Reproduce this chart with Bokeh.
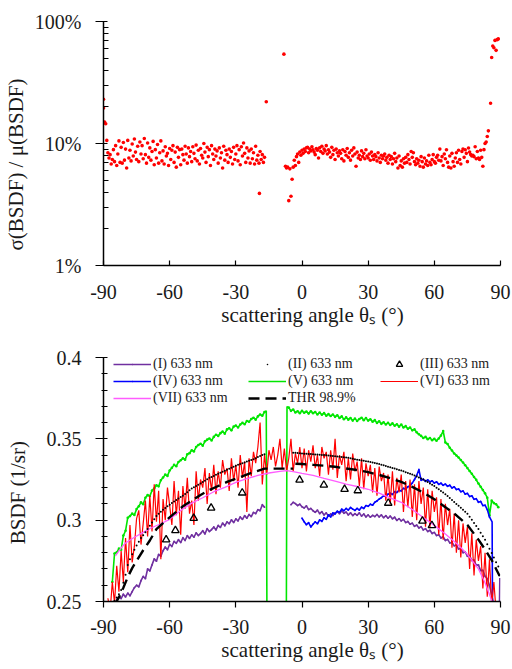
import numpy as np
from bokeh.plotting import figure
from bokeh.layouts import column
from bokeh.models import (FixedTicker, PrintfTickFormatter, CustomJSTickFormatter,
                          Legend, LegendItem, Range1d)
from bokeh.embed import file_html
from bokeh.resources import INLINE

FONT = "Liberation Serif"

# ---------------- top panel: relative std dev (percent) ----------------
top_left_theta = np.linspace(-89.0, -17.0, 145)
top_left_cv = [
    14.5, 10.6, 8.4, 7.6, 8.1, 6.8, 7.4, 8.9, 7.1, 9.6,
    6.6, 8.2, 10.5, 7.0, 9.3, 6.9, 10.2, 7.3, 9.0, 6.3,
    10.6, 7.6, 8.8, 7.2, 9.9, 7.9, 10.9, 8.5, 7.4, 9.5,
    7.1, 10.3, 8.2, 9.6, 7.5, 11.0, 8.1, 6.9, 10.1, 7.7,
    9.2, 7.3, 8.6, 10.4, 6.7, 8.9, 7.6, 9.8, 6.9, 8.4,
    10.5, 7.2, 8.7, 6.8, 9.4, 7.9, 8.3, 6.6, 9.1, 7.4,
    8.8, 9.6, 7.0, 8.5, 6.4, 9.3, 7.7, 8.9, 6.7, 9.0,
    8.1, 7.3, 9.5, 8.2, 6.9, 9.2, 7.8, 8.6, 7.1, 9.4,
    8.3, 7.5, 9.7, 7.2, 8.8, 6.8, 9.1, 8.0, 7.6, 10.0,
    8.5, 7.0, 9.3, 7.8, 8.9, 6.6, 9.6, 8.2, 7.4, 9.0,
    7.9, 8.7, 6.9, 9.2, 7.6, 8.4, 6.3, 9.5, 7.3, 8.8,
    8.1, 7.0, 9.0, 7.7, 8.6, 6.8, 9.3, 7.4, 8.2, 9.6,
    7.2, 8.9, 6.7, 9.4, 7.9, 10.1, 8.3, 7.0, 9.2, 7.6,
    8.7, 6.9, 9.0, 7.5, 8.4, 6.8, 9.5, 7.3, 8.0, 6.9,
    8.6, 7.4, 8.1, 7.0, 7.7,
]
top_right_theta = np.linspace(-7.5, 82.5, 181)
top_right_cv = [
    6.5, 6.3, 6.4, 3.4, 6.2, 3.7, 5.1, 6.4, 7.3, 6.6,
    7.8, 8.2, 7.0, 8.5, 8.0, 8.8, 8.3, 9.0, 8.6, 9.2,
    9.3, 8.4, 9.0, 8.7, 9.4, 8.9, 8.5, 8.1, 9.1, 8.8,
    7.6, 9.2, 8.6, 9.5, 8.3, 9.0, 8.7, 9.6, 8.2, 8.9,
    8.5, 7.7, 9.3, 8.1, 8.8, 7.4, 9.0, 8.4, 7.9, 8.7,
    8.3, 7.5, 8.9, 7.2, 8.6, 8.0, 9.1, 7.7, 8.4, 7.3,
    8.8, 7.9, 9.2, 8.2, 6.5, 8.5, 7.6, 8.0, 7.4, 8.7,
    7.8, 8.3, 7.5, 8.9, 7.9, 7.6, 8.2, 7.3, 8.5, 7.9,
    7.4, 8.1, 7.8, 7.2, 8.4, 7.6, 7.0, 8.0, 7.5, 7.9,
    8.2, 7.3, 7.7, 6.9, 8.0, 7.4, 7.8, 6.8, 7.5, 8.3,
    7.1, 7.6, 6.3, 7.9, 6.6, 7.2, 6.4, 7.5, 6.9, 7.7,
    7.0, 8.1, 7.4, 6.8, 8.6, 7.7, 8.4, 7.1, 6.7, 7.5,
    6.9, 7.3, 6.5, 7.8, 7.1, 6.4, 7.6, 6.8, 7.2, 6.6,
    8.0, 7.0, 6.7, 7.4, 8.1, 7.1, 6.9, 7.7, 8.0, 7.3,
    9.0, 7.2, 7.8, 6.6, 8.2, 7.5, 8.9, 7.0, 6.4, 7.9,
    6.3, 8.3, 7.1, 6.5, 7.6, 8.4, 7.0, 8.8, 7.4, 6.8,
    8.6, 9.0, 7.7, 8.9, 8.3, 7.1, 9.2, 8.5, 8.1, 7.9,
    8.0, 7.8, 9.4, 7.5, 8.6, 7.6, 7.4, 8.8, 7.7, 6.5,
    8.9,
]
top_extra_theta = [-90.0, -90.0, -89.5, -19.3, -16.2, -8.2, 83.0, 83.5, 84.0, 84.5,
                   85.5, 86.0, 86.5, 87.0, 87.5, 88.0, 88.5, 89.0]
top_extra_cv = [23.0, 19.5, 15.0, 3.9, 22.0, 54.0, 10.0, 10.3, 11.4, 12.7,
                21.4, 50.7, 63.0, 61.0, 70.0, 58.0, 71.0, 72.0]
top_ticks = [1, 10, 100]
top_minor = [2, 3, 4, 5, 6, 7, 8, 9, 20, 30, 40, 50, 60, 70, 80, 90]
x_ticks = [-90, -60, -30, 0, 30, 60, 90]

# ---------------- bottom panel: BSDF ----------------
# (I) purple
p1_left_theta = np.arange(-84, -16)
p1_left = [
    0.2512, 0.2530, 0.2518, 0.2545, 0.2528, 0.2552, 0.2535, 0.2560, 0.2585, 0.2600,
    0.2590, 0.2628, 0.2655, 0.2640, 0.2700, 0.2688, 0.2725, 0.2762, 0.2748, 0.2790,
    0.2778, 0.2812, 0.2835, 0.2818, 0.2852, 0.2838, 0.2870, 0.2858, 0.2880, 0.2862,
    0.2892, 0.2875, 0.2905, 0.2888, 0.2910, 0.2895, 0.2922, 0.2905, 0.2918, 0.2935,
    0.2915, 0.2948, 0.2930, 0.2942, 0.2958, 0.2940, 0.2968, 0.2955, 0.2982, 0.2965,
    0.2990, 0.2978, 0.3002, 0.2985, 0.3008, 0.2995, 0.3020, 0.3005, 0.3028, 0.3012,
    0.3035, 0.3022, 0.3048, 0.3040, 0.3065, 0.3058, 0.3095, 0.3080,
]
p1_right_theta = np.arange(-5, 87)
p1_right = [
    0.3095, 0.3110, 0.3102, 0.3090, 0.3098, 0.3082, 0.3075, 0.3088, 0.3065, 0.3072,
    0.3058, 0.3048, 0.3062, 0.3040, 0.3052, 0.3032, 0.3045, 0.3025, 0.3038, 0.3028,
    0.3045, 0.3052, 0.3040, 0.3058, 0.3042, 0.3050, 0.3032, 0.3045, 0.3028, 0.3040,
    0.3030, 0.3045, 0.3025, 0.3038, 0.3020, 0.3032, 0.3018, 0.3030, 0.3022, 0.3035,
    0.3020, 0.3032, 0.3015, 0.3028, 0.3012, 0.3025, 0.3008, 0.3018, 0.2998, 0.3010,
    0.2995, 0.3005, 0.2985, 0.2992, 0.2975, 0.2982, 0.2962, 0.2970, 0.2952, 0.2960,
    0.2940, 0.2948, 0.2930, 0.2938, 0.2918, 0.2925, 0.2905, 0.2910, 0.2890, 0.2898,
    0.2875, 0.2882, 0.2860, 0.2865, 0.2842, 0.2848, 0.2822, 0.2828, 0.2800, 0.2805,
    0.2778, 0.2782, 0.2752, 0.2755, 0.2722, 0.2725, 0.2690, 0.2692, 0.2655, 0.2640,
    0.2600, 0.2540,
]
p1_tail_theta = [86.0, 87.5, 89.5, 89.7]
p1_tail = [0.2540, 0.2440, 0.2440, 0.2645]

# (II) black dots
p2_left_theta = np.arange(-85, -16)
p2_left = [
    0.2505, 0.2525, 0.2545, 0.2570, 0.2615, 0.2665, 0.2725, 0.2760, 0.2790, 0.2818,
    0.2845, 0.2868, 0.2890, 0.2908, 0.2926, 0.2945, 0.2965, 0.2985, 0.3005, 0.3025,
    0.3040, 0.3052, 0.3064, 0.3075, 0.3085, 0.3095, 0.3105, 0.3115, 0.3124, 0.3133,
    0.3142, 0.3150, 0.3161, 0.3172, 0.3184, 0.3195, 0.3203, 0.3210, 0.3218, 0.3225,
    0.3234, 0.3243, 0.3251, 0.3260, 0.3266, 0.3272, 0.3279, 0.3285, 0.3291, 0.3298,
    0.3304, 0.3310, 0.3316, 0.3323, 0.3329, 0.3335, 0.3340, 0.3345, 0.3350, 0.3355,
    0.3360, 0.3365, 0.3370, 0.3375, 0.3381, 0.3388, 0.3395, 0.3400, 0.3405,
]
p2_right_theta = np.arange(-4, 90)
p2_right = [
    0.3415, 0.3414, 0.3413, 0.3412, 0.3410, 0.3409, 0.3408, 0.3407, 0.3406, 0.3405,
    0.3404, 0.3403, 0.3402, 0.3401, 0.3400, 0.3399, 0.3398, 0.3396, 0.3395, 0.3393,
    0.3391, 0.3390, 0.3388, 0.3387, 0.3385, 0.3383, 0.3380, 0.3378, 0.3375, 0.3372,
    0.3370, 0.3367, 0.3365, 0.3362, 0.3360, 0.3357, 0.3354, 0.3351, 0.3348, 0.3345,
    0.3341, 0.3337, 0.3333, 0.3329, 0.3325, 0.3321, 0.3317, 0.3313, 0.3309, 0.3305,
    0.3300, 0.3295, 0.3290, 0.3285, 0.3280, 0.3274, 0.3268, 0.3262, 0.3256, 0.3250,
    0.3242, 0.3234, 0.3226, 0.3218, 0.3210, 0.3200, 0.3190, 0.3180, 0.3170, 0.3160,
    0.3148, 0.3136, 0.3124, 0.3112, 0.3100, 0.3088, 0.3076, 0.3064, 0.3052, 0.3040,
    0.3021, 0.3002, 0.2983, 0.2964, 0.2945, 0.2923, 0.2901, 0.2880, 0.2852, 0.2825,
    0.2798, 0.2770, 0.2742, 0.2715,
]
p2_extra_theta = [89.4]
p2_extra = [0.2660]

# (III) triangles
p3_theta = [-61.6, -57.4, -49.1, -41.2, -27.1, -1.1, 9.9, 19.3, 25.3, 39.1, 54.6, 58.9]
p3 = [0.2880, 0.2937, 0.3012, 0.3075, 0.3168, 0.3247, 0.3216, 0.3190, 0.3182, 0.3105, 0.2995, 0.2968]

# (IV) blue
p4_theta = np.arange(0, 86)
p4 = [
    0.3012, 0.2990, 0.2972, 0.2985, 0.2958, 0.2975, 0.2990, 0.2978, 0.3002, 0.2992,
    0.3015, 0.3005, 0.3032, 0.3020, 0.3045, 0.3038, 0.3055, 0.3048, 0.3068, 0.3058,
    0.3072, 0.3062, 0.3078, 0.3068, 0.3060, 0.3072, 0.3062, 0.3080, 0.3072, 0.3090,
    0.3085, 0.3098, 0.3092, 0.3110, 0.3118, 0.3130, 0.3138, 0.3150, 0.3145, 0.3160,
    0.3165, 0.3158, 0.3175, 0.3170, 0.3185, 0.3180, 0.3196, 0.3190, 0.3205, 0.3212,
    0.3228, 0.3250, 0.3275, 0.3312, 0.3245, 0.3252, 0.3238, 0.3248, 0.3235, 0.3242,
    0.3228, 0.3236, 0.3220, 0.3228, 0.3214, 0.3222, 0.3208, 0.3215, 0.3198, 0.3205,
    0.3188, 0.3192, 0.3175, 0.3180, 0.3160, 0.3165, 0.3145, 0.3150, 0.3128, 0.3132,
    0.3110, 0.3115, 0.3090, 0.3092, 0.3065, 0.3020,
]
p4_tail_theta = [85.0, 86.2, 86.4]
p4_tail = [0.3020, 0.2990, 0.2400]

# (V) green
p5_left_theta = np.arange(-86, -16)
p5_left = [
    0.2620, 0.2795, 0.2802, 0.2825, 0.2818, 0.2905, 0.2935, 0.3015, 0.3025, 0.3040,
    0.3032, 0.3068, 0.3085, 0.3110, 0.3098, 0.3138, 0.3155, 0.3148, 0.3182, 0.3195,
    0.3215, 0.3208, 0.3245, 0.3262, 0.3280, 0.3272, 0.3305, 0.3322, 0.3340, 0.3332,
    0.3358, 0.3368, 0.3380, 0.3372, 0.3405, 0.3412, 0.3430, 0.3422, 0.3450, 0.3462,
    0.3470, 0.3458, 0.3485, 0.3495, 0.3502, 0.3490, 0.3512, 0.3525, 0.3518, 0.3535,
    0.3545, 0.3532, 0.3558, 0.3565, 0.3552, 0.3575, 0.3582, 0.3570, 0.3588, 0.3598,
    0.3590, 0.3610, 0.3605, 0.3622, 0.3630, 0.3618, 0.3638, 0.3650, 0.3642, 0.3665,
]
p5_gap_theta = [-16.2, -15.8, -7.2, -6.8]
p5_gap = [0.3672, 0.2000, 0.2000, 0.3698]
p5_right_theta = np.arange(-6, 90)
p5_right = [
    0.3692, 0.3672, 0.3680, 0.3662, 0.3670, 0.3658, 0.3672, 0.3660, 0.3668, 0.3655,
    0.3670, 0.3658, 0.3665, 0.3650, 0.3662, 0.3648, 0.3658, 0.3642, 0.3652, 0.3640,
    0.3650, 0.3635, 0.3645, 0.3628, 0.3638, 0.3620, 0.3632, 0.3618, 0.3628, 0.3612,
    0.3625, 0.3610, 0.3622, 0.3630, 0.3615, 0.3628, 0.3612, 0.3620, 0.3605, 0.3615,
    0.3598, 0.3608, 0.3592, 0.3602, 0.3588, 0.3598, 0.3585, 0.3595, 0.3580, 0.3590,
    0.3575, 0.3588, 0.3570, 0.3578, 0.3562, 0.3570, 0.3552, 0.3558, 0.3540, 0.3528,
    0.3518, 0.3505, 0.3512, 0.3498, 0.3505, 0.3492, 0.3500, 0.3488, 0.3502, 0.3520,
    0.3548, 0.3478, 0.3468, 0.3445, 0.3428, 0.3410, 0.3398, 0.3385, 0.3370, 0.3355,
    0.3338, 0.3320, 0.3302, 0.3285, 0.3265, 0.3248, 0.3225, 0.3205, 0.3185, 0.3165,
    0.3138, 0.3030, 0.3120, 0.3105, 0.3098, 0.3080,
]

# (VI) red
p6_theta = np.arange(-88, 89)
p6 = [
    0.252, 0.244, 0.262, 0.249, 0.272, 0.256, 0.281, 0.262, 0.289, 0.268,
    0.297, 0.274, 0.284, 0.301, 0.306, 0.285, 0.298, 0.312, 0.290, 0.315,
    0.293, 0.322, 0.299, 0.318, 0.276, 0.313, 0.300, 0.320, 0.309, 0.297,
    0.324, 0.303, 0.318, 0.291, 0.321, 0.307, 0.326, 0.304, 0.312, 0.297,
    0.330, 0.312, 0.325, 0.320, 0.332, 0.310, 0.329, 0.318, 0.334, 0.316,
    0.330, 0.320, 0.337, 0.328, 0.332, 0.318, 0.338, 0.324, 0.334, 0.320,
    0.340, 0.326, 0.336, 0.305, 0.338, 0.327, 0.342, 0.335, 0.345, 0.360,
    0.322, 0.340, 0.328, 0.343, 0.337, 0.345, 0.333, 0.340, 0.350, 0.332,
    0.344, 0.330, 0.338, 0.350, 0.330, 0.341, 0.335, 0.345, 0.332, 0.344,
    0.330, 0.343, 0.336, 0.346, 0.332, 0.340, 0.327, 0.345, 0.338, 0.342,
    0.328, 0.343, 0.331, 0.350, 0.326, 0.340, 0.334, 0.342, 0.324, 0.338,
    0.325, 0.341, 0.330, 0.336, 0.321, 0.338, 0.319, 0.335, 0.327, 0.334,
    0.317, 0.332, 0.315, 0.333, 0.324, 0.329, 0.312, 0.328, 0.310, 0.330,
    0.309, 0.326, 0.317, 0.328, 0.305, 0.324, 0.308, 0.325, 0.302, 0.322,
    0.300, 0.324, 0.310, 0.320, 0.296, 0.319, 0.295, 0.318, 0.305, 0.314,
    0.291, 0.313, 0.288, 0.310, 0.297, 0.307, 0.283, 0.304, 0.280, 0.300,
    0.277, 0.298, 0.286, 0.296, 0.270, 0.292, 0.266, 0.288, 0.275, 0.284,
    0.258, 0.280, 0.253, 0.276, 0.248, 0.262, 0.244,
]

# (VII) magenta
p7_theta = [-84.6, -82, -80, -76, -72, -68, -64, -60, -55, -50, -45, -40, -35, -30, -25,
            -20, -15, -10, -7, -4, 0, 5, 10, 15, 20, 25, 30, 35, 40, 45, 50, 55,
            60, 65, 70, 75, 80, 83, 85.5, 87]
p7 = [0.2780, 0.2830, 0.2860, 0.2895, 0.2925, 0.2955, 0.2978, 0.3005, 0.3060, 0.3105,
      0.3138, 0.3175, 0.3202, 0.3232, 0.3255, 0.3275, 0.3290, 0.3300, 0.3305, 0.3298,
      0.3287, 0.3275, 0.3257, 0.3240, 0.3222, 0.3207, 0.3190, 0.3166, 0.3137, 0.3110,
      0.3066, 0.3016, 0.2968, 0.2915, 0.2858, 0.2790, 0.2700, 0.2615, 0.2525, 0.2460]

# THR 98.9 %
thr_left_theta = [-85, -83, -81, -79, -77, -75, -72, -69, -66, -62, -58, -54, -50, -46,
                  -42, -38, -34, -30, -26, -22, -18, -17, -4]
thr_left = [0.2480, 0.2525, 0.2585, 0.2650, 0.2705, 0.2750, 0.2815, 0.2875, 0.2945,
            0.2995, 0.3040, 0.3085, 0.3120, 0.3155, 0.3185, 0.3210, 0.3235, 0.3255,
            0.3275, 0.3295, 0.3312, 0.3317, 0.3317]
thr_right_theta = [-3, 0, 5, 10, 15, 20, 25, 30, 35, 40, 45, 50, 55, 60, 65, 70, 75,
                   80, 83, 86, 88, 89.5]
thr_right = [0.3347, 0.3345, 0.3340, 0.3335, 0.3328, 0.3318, 0.3308, 0.3295, 0.3278,
             0.3258, 0.3235, 0.3205, 0.3170, 0.3128, 0.3080, 0.3030, 0.2970, 0.2880,
             0.2820, 0.2755, 0.2700, 0.2660]

bsdf_ticks = [0.25, 0.3, 0.35, 0.4]
bsdf_minor = [0.26, 0.27, 0.28, 0.29, 0.31, 0.32, 0.33, 0.34, 0.36, 0.37, 0.38, 0.39]

legend_labels = ["(I) 633 nm", "(II) 633 nm", "(III) 633 nm", "(IV) 633 nm",
                 "(V) 633 nm", "(VI) 633 nm", "(VII) 633 nm", "THR 98.9%"]

for a, b in [(top_left_theta, top_left_cv), (top_right_theta, top_right_cv),
             (top_extra_theta, top_extra_cv), (p1_left_theta, p1_left),
             (p1_right_theta, p1_right), (p2_left_theta, p2_left),
             (p2_right_theta, p2_right), (p3_theta, p3), (p4_theta, p4),
             (p5_left_theta, p5_left), (p5_right_theta, p5_right), (p6_theta, p6),
             (p7_theta, p7), (thr_left_theta, thr_left), (thr_right_theta, thr_right)]:
    assert len(a) == len(b), (len(a), len(b))

PURPLE = "#7030A0"
BLUE = "#0000FF"
GREEN = "#00E600"
RED = "#FF0000"
MAGENTA = "#FF5CFF"
NB = "\u00a0"
XTITLE = NB * 4 + "scattering angle θₛ (°)"


def style(p, x_in, x_out, y_major_in, y_minor_in, y_minor_out):
    p.outline_line_color = None
    p.xgrid.visible = False
    p.ygrid.visible = False
    p.background_fill_color = "white"
    p.border_fill_color = "white"
    for ax in (p.xaxis[0], p.yaxis[0]):
        ax.axis_line_color = "black"
        ax.axis_line_width = 1.5
        ax.major_tick_line_color = "black"
        ax.major_tick_line_width = 1.2
        ax.minor_tick_line_color = "black"
        ax.minor_tick_line_width = 1
        ax.major_label_text_font = FONT
        ax.major_label_text_font_size = "20px"
        ax.major_label_text_color = "#1a1a1a"
        ax.axis_label_text_font = FONT
        ax.axis_label_text_font_size = "21px"
        ax.axis_label_text_font_style = "normal"
        ax.axis_label_text_color = "#1a1a1a"
    xa = p.xaxis[0]
    xa.ticker = FixedTicker(ticks=x_ticks)
    xa.formatter = CustomJSTickFormatter(code="return tick.toString();")
    xa.major_tick_in = x_in
    xa.major_tick_out = x_out
    xa.axis_label = XTITLE
    ya = p.yaxis[0]
    ya.major_tick_in = y_major_in
    ya.major_tick_out = 8
    ya.minor_tick_in = y_minor_in
    ya.minor_tick_out = y_minor_out
    ya.major_label_standoff = 14


# ---------------- top figure ----------------
f1 = figure(width=512, height=345, x_range=Range1d(-90, 90), y_range=Range1d(1, 100),
            y_axis_type="log", output_backend="svg", toolbar_location=None,
            min_border_left=103, min_border_right=12, min_border_top=21,
            min_border_bottom=80)
style(f1, 5, 0, 4, 5, 0)
f1.yaxis[0].ticker = FixedTicker(ticks=top_ticks, minor_ticks=top_minor)
f1.yaxis[0].formatter = PrintfTickFormatter(format="%d%%")
f1.yaxis[0].axis_label = "σ(BSDF) / μ(BSDF)" + NB * 8
f1.yaxis[0].axis_label_standoff = 4
f1.xaxis[0].major_label_standoff = 19
f1.xaxis[0].axis_label_standoff = 1

for th, cv in [(top_left_theta, top_left_cv), (top_right_theta, top_right_cv),
               (top_extra_theta, top_extra_cv)]:
    f1.scatter(th, cv, size=3.6, color=RED, line_color=None)

# ---------------- bottom figure ----------------
f2 = figure(width=512, height=324, x_range=Range1d(-90, 90), y_range=Range1d(0.25, 0.4),
            output_backend="svg", toolbar_location=None,
            min_border_left=103, min_border_right=12, min_border_top=12,
            min_border_bottom=68)
style(f2, 0, 6, 4, 4, 2)
f2.yaxis[0].ticker = FixedTicker(ticks=bsdf_ticks, minor_ticks=bsdf_minor)
f2.yaxis[0].formatter = CustomJSTickFormatter(code="return tick.toString();")
f2.yaxis[0].axis_label = "BSDF  (1/sr)" + NB * 4
f2.yaxis[0].axis_label_standoff = 14
f2.xaxis[0].major_label_standoff = 12
f2.xaxis[0].axis_label_standoff = 1

# (V) green
g_th = list(p5_left_theta) + p5_gap_theta + list(p5_right_theta)
g_v = p5_left + p5_gap + p5_right
r5 = f2.line(g_th, g_v, color=GREEN, line_width=1.6)
f2.scatter(p5_left_theta, p5_left, size=2.6, color=GREEN, line_color=None)
f2.scatter(p5_right_theta, p5_right, size=2.6, color=GREEN, line_color=None)

# (I) purple
r1 = f2.line(p1_left_theta, p1_left, color=PURPLE, line_width=1.6)
r1m = f2.scatter(p1_left_theta, p1_left, marker="dot", size=7, color=PURPLE)
f2.line(list(p1_right_theta) + p1_tail_theta[1:], p1_right + p1_tail[1:],
        color=PURPLE, line_width=1.6)
f2.scatter(p1_right_theta, p1_right, marker="dot", size=7, color=PURPLE)

# (IV) blue
r4 = f2.line(list(p4_theta) + p4_tail_theta[1:], p4 + p4_tail[1:], color=BLUE,
             line_width=1.6)
r4m = f2.scatter(p4_theta, p4, marker="dot", size=7, color=BLUE)

# (VI) red
r6 = f2.line(p6_theta, p6, color=RED, line_width=1.2)

# (VII) magenta
r7 = f2.line(p7_theta, p7, color=MAGENTA, line_width=1.3)

# THR
r8 = f2.line(thr_left_theta, thr_left, color="black", line_width=2.4, line_dash="11 6")
f2.line(thr_right_theta, thr_right, color="black", line_width=2.4, line_dash="11 6")

# (II) dots
r2 = f2.scatter(p2_left_theta, p2_left, marker="dot", size=8, color="black",
                line_width=1.5)
f2.scatter(p2_right_theta, p2_right, marker="dot", size=8, color="black",
           line_width=1.5)
f2.scatter(p2_extra_theta, p2_extra, marker="dot", size=8, color="black",
           line_width=1.5)

# (III) triangles
r3 = f2.scatter(p3_theta, p3, marker="triangle", size=7.5, fill_color=None,
                line_color="black", line_width=1.3)


def make_legend(items, loc):
    lg = Legend(items=items, location=loc, orientation="vertical",
                glyph_width=38, glyph_height=16, label_height=16, spacing=1,
                label_standoff=2, padding=0, margin=0,
                border_line_color=None, background_fill_alpha=0,
                label_text_font=FONT, label_text_font_size="14px",
                label_text_color="#222222")
    f2.add_layout(lg)


make_legend([LegendItem(label=legend_labels[0], renderers=[r1, r1m]),
             LegendItem(label=legend_labels[3], renderers=[r4, r4m]),
             LegendItem(label=legend_labels[6], renderers=[r7])], (10, 195))
make_legend([LegendItem(label=legend_labels[1], renderers=[r2]),
             LegendItem(label=legend_labels[4], renderers=[r5]),
             LegendItem(label=legend_labels[7], renderers=[r8])], (145, 195))
make_legend([LegendItem(label=legend_labels[2], renderers=[r3]),
             LegendItem(label=legend_labels[5], renderers=[r6])], (277, 212))

layout = column(f1, f2, spacing=0)
open("out.html", "w").write(file_html(layout, INLINE))
